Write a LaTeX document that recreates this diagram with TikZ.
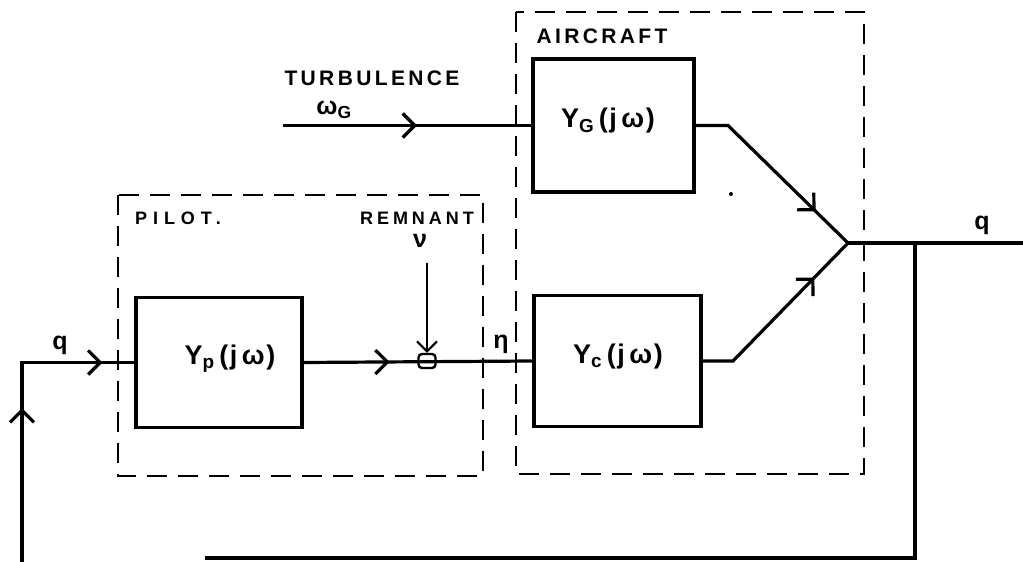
\documentclass[tikz,border=0pt]{standalone}
\usepackage{fontspec}
\setmainfont{Liberation Sans}
\newfontfamily\handA{Liberation Sans}[LetterSpace=16]
\newfontfamily\handB{Liberation Sans}[LetterSpace=33]
\newfontfamily\handC{Liberation Sans}[LetterSpace=22]
\newfontfamily\handD{Liberation Sans}[LetterSpace=6]
\usetikzlibrary{arrows.meta,decorations.markings}
\tikzset{
  wire/.style={line width=3.2pt},
  thinwire/.style={line width=2pt},
  dbox/.style={line width=2.6pt, dash pattern=on 20pt off 11pt},
  blk/.style={draw, line width=3.2pt, inner sep=0pt},
  rembox/.style={draw, line width=2.4pt, rounded corners=3.5pt, minimum width=17pt, minimum height=14pt, inner sep=0pt},
  midarr/.style={postaction={decorate, decoration={markings, mark=at position #1 with {\arrow{Straight Barb[length=12pt,width=24pt]}}}}},
  caps/.style={font=\handA\bfseries\fontsize{21}{21}\selectfont, inner sep=0pt},
  smallcaps/.style={font=#1\bfseries\fontsize{18}{18}\selectfont, inner sep=0pt},
  blklab/.style={font=\handD\bfseries\fontsize{27}{27}\selectfont, inner sep=0pt},
  sym/.style={font=\bfseries\fontsize{25}{25}\selectfont, inner sep=0pt}
}
\begin{document}
\begin{tikzpicture}[x=1pt,y=-1pt]
\useasboundingbox (0,0) rectangle (1023,562);
% dashed enclosures
\draw[dbox] (118,195) rectangle (483,476);
\draw[dbox] (516,12) rectangle (864,474);
% blocks
\node[blk, minimum width=166pt, minimum height=130pt] (yp) at (219,362.5) {};
\node[blk, minimum width=167pt, minimum height=131pt] (yc) at (617.5,361) {};
\node[blk, minimum width=161pt, minimum height=133pt] (yg) at (613.5,125.5) {};
\node[rembox] (rem) at (427,361) {};
% coordinates
\coordinate (sum) at (848,243);
\coordinate (gb) at (728,125.5);
\coordinate (cb) at (733,361);
\coordinate (out) at (1023,243);
\coordinate (fb) at (915,243);
\coordinate (fbb) at (915,558);
\coordinate (fbl) at (205,558);
\coordinate (inb) at (22,562);
\coordinate (inc) at (22,362.5);
\coordinate (tin) at (283,125.5);
\coordinate (nu) at (427,263);
% connectors
\draw[wire, midarr=154pt, midarr=280pt] (inb) -- (inc) -- (yp.west);
\draw[wire, midarr=86pt] (yp.east) -- (yc.west);
\draw[wire, midarr=134pt] (tin) -- (yg.west);
\draw[wire, midarr=155pt] (yg.east) -- (gb) -- (sum);
\draw[wire, midarr=147pt] (yc.east) -- (cb) -- (sum);
\draw[wire] (sum) -- (out);
\draw[wire] (fb) -- (fbb) -- (fbl);
\draw[thinwire, -{Straight Barb[length=10pt,width=20pt]}] (nu) -- (rem.north);
\fill (731,194) circle (2pt);
% labels
\node[caps] (turb) at (372,78) {TURBULENCE};
\node[caps] (air) at (602,36) {AIRCRAFT};
\node[smallcaps=\handB] (pil) at (178,218) {PILOT.};
\node[smallcaps=\handC] (remn) at (417,218) {REMNANT};
\node[sym] (wg) at (334,110) {ω\textsubscript{G}};
\node[sym] (nul) at (420,241) {ν};
\node[sym] (eta) at (501,344) {η};
\node[sym] (qin) at (60,345) {q};
\node[sym] (qout) at (982,225) {q};
\node[blklab] (lp) at (230,359) {Y\textsubscript{p}\,(j\,ω)};
\node[blklab] (lg) at (608,121) {Y\textsubscript{G}\,(j\,ω)};
\node[blklab] (lc) at (618,357) {Y\textsubscript{c}\,(j\,ω)};
\end{tikzpicture}
\end{document}
